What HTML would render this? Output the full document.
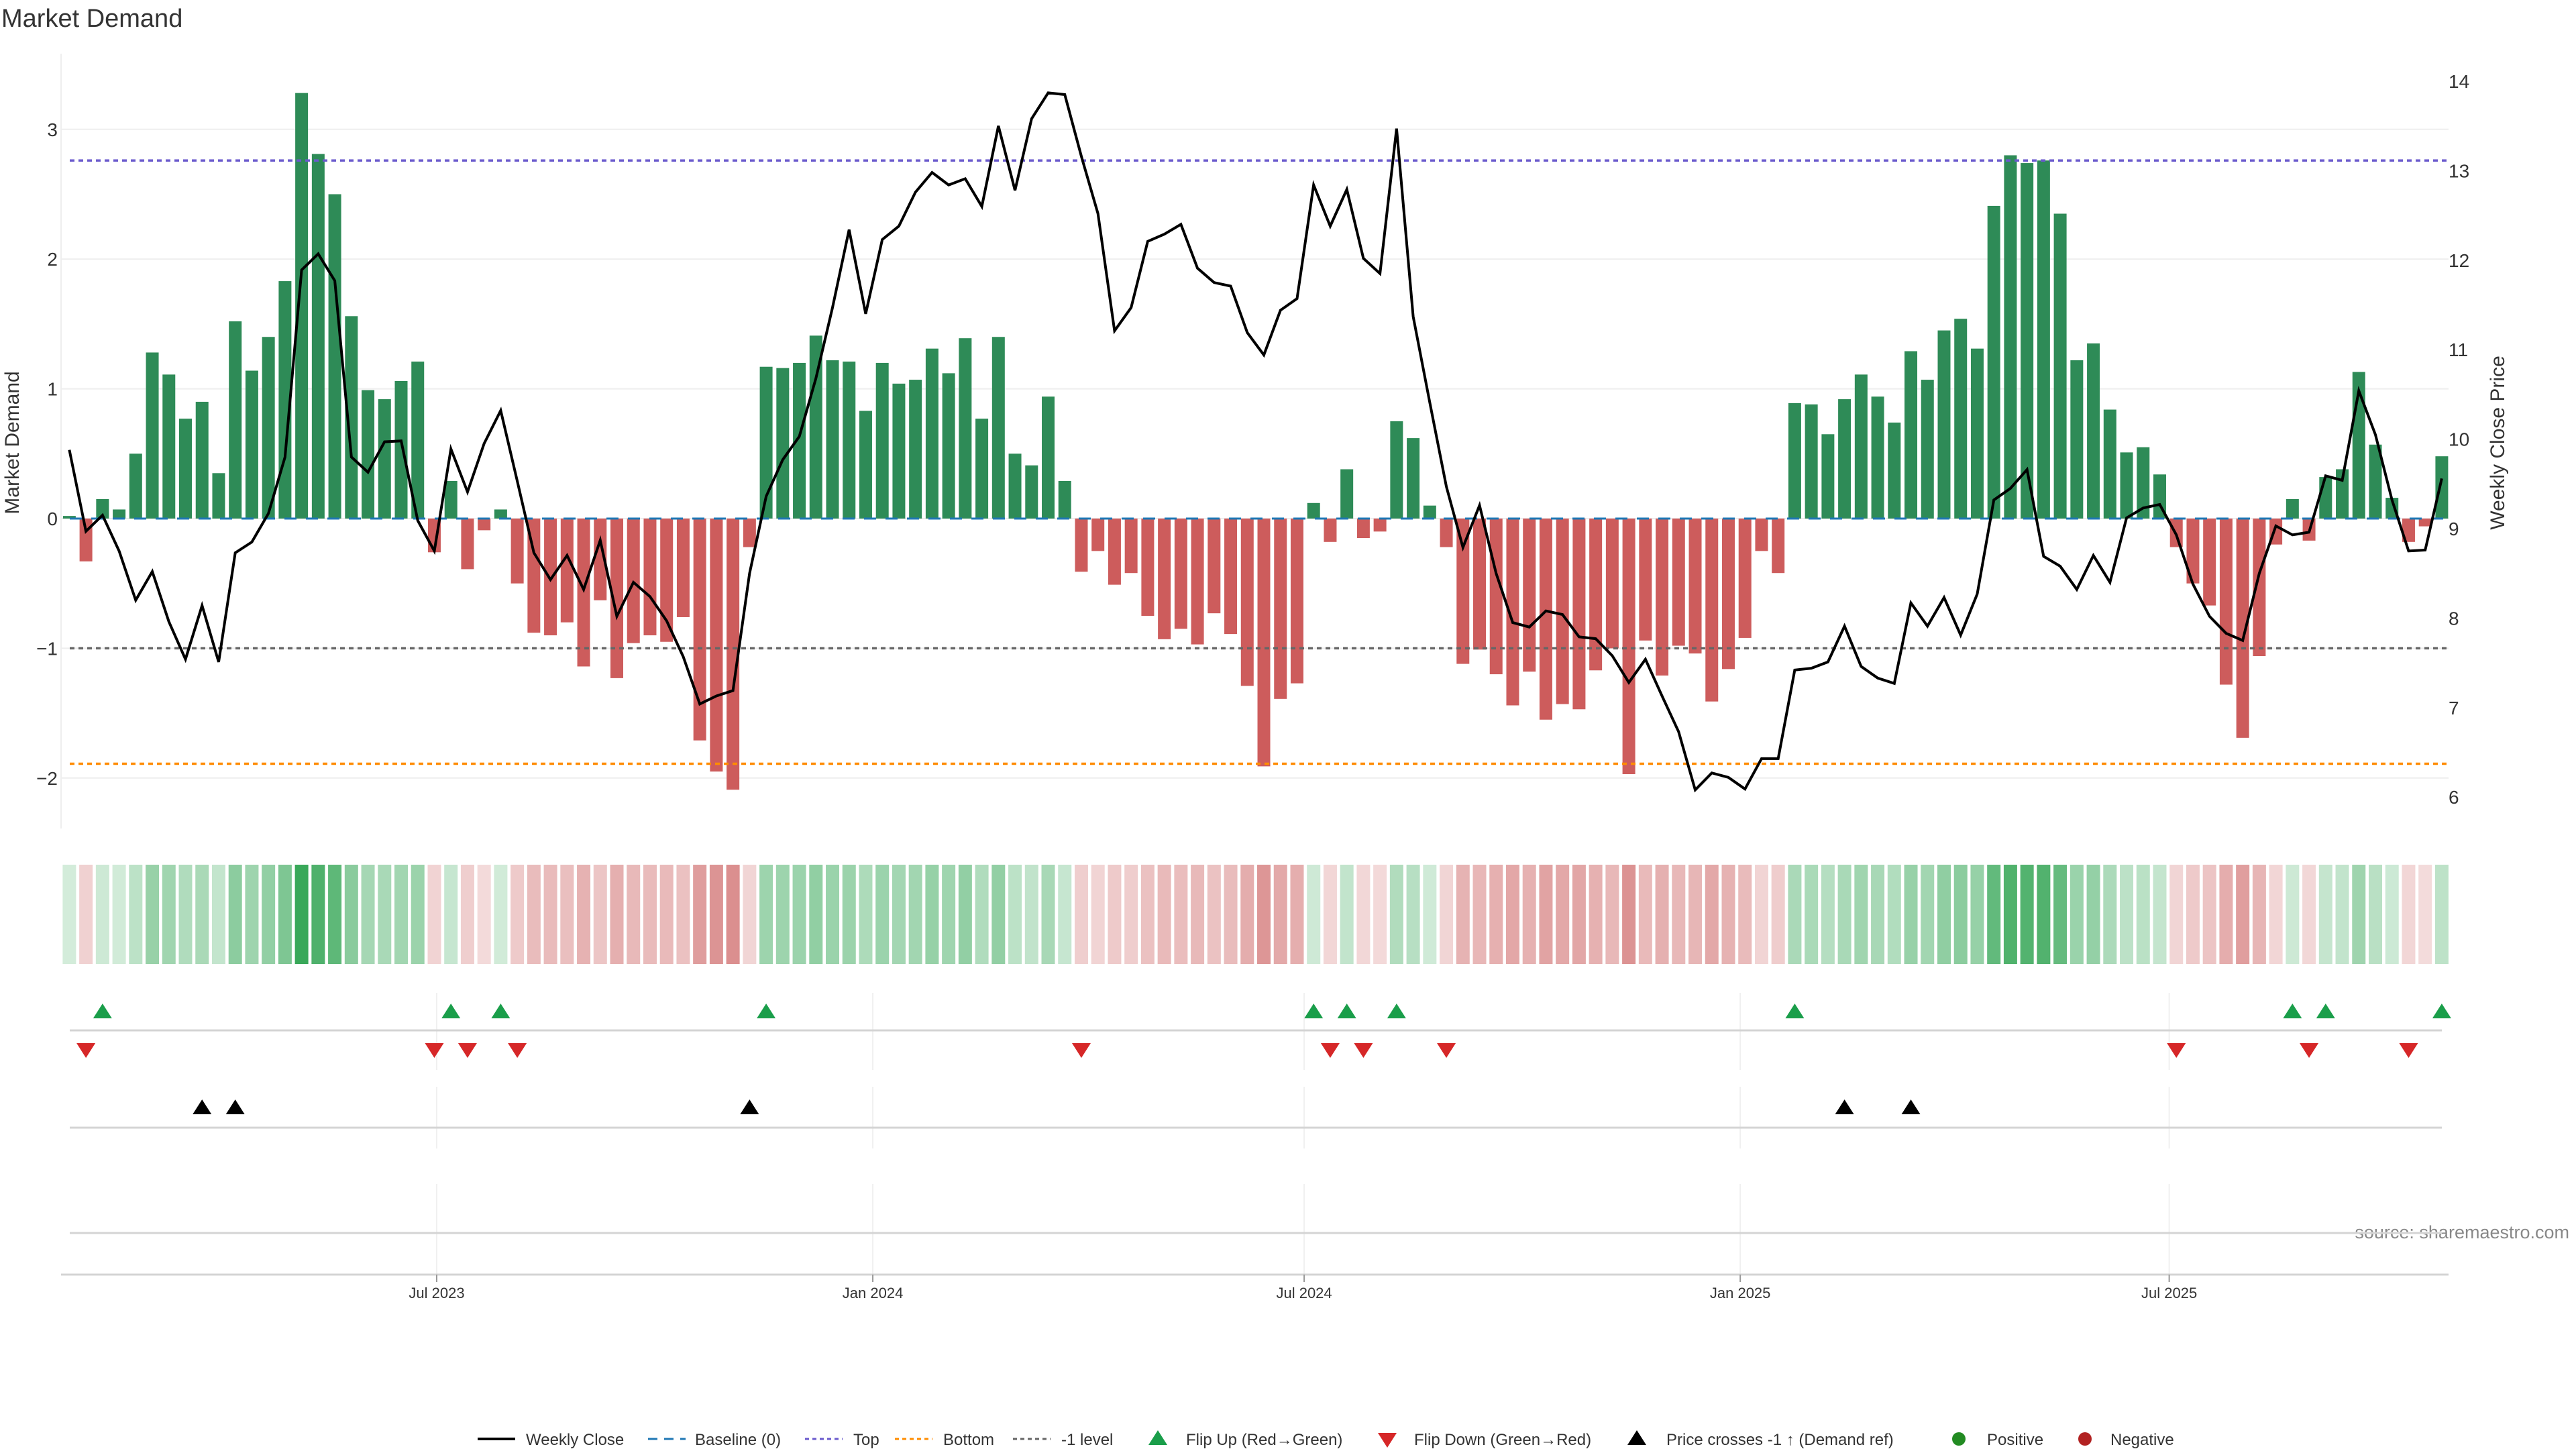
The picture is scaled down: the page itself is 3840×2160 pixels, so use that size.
<!DOCTYPE html>
<html><head><meta charset="utf-8"><style>
html,body{margin:0;padding:0;background:#fff;}
svg{display:block;font-family:"Liberation Sans","DejaVu Sans",sans-serif;}
</style></head><body>
<svg id="chart" width="3840" height="2160" viewBox="0 0 3840 2160" xmlns="http://www.w3.org/2000/svg">
<text x="2" y="40" font-size="38" fill="#333">Market Demand</text>
<text transform="translate(28,660) rotate(-90)" text-anchor="middle" font-size="30" fill="#333">Market Demand</text>
<text transform="translate(3733,660) rotate(-90)" text-anchor="middle" font-size="30" fill="#333">Weekly Close Price</text>
<text x="3830" y="1846" text-anchor="end" font-size="27" fill="#888">source: sharemaestro.com</text>
<g id="grid"></g><g id="bars"></g><g id="levels"></g><g id="line"></g><g id="heat"></g><g id="markers"></g><g id="axes"></g><g id="legend"></g>
</svg>
<script>
const demand = [0.02,-0.33,0.15,0.07,0.5,1.28,1.11,0.77,0.90,0.35,1.52,1.14,1.40,1.83,3.28,2.81,2.50,1.56,0.99,0.92,1.06,1.21,-0.26,0.29,-0.39,-0.09,0.07,-0.50,-0.88,-0.90,-0.80,-1.14,-0.63,-1.23,-0.96,-0.90,-0.95,-0.76,-1.71,-1.95,-2.09,-0.22,1.17,1.16,1.20,1.41,1.22,1.21,0.83,1.20,1.04,1.07,1.31,1.12,1.39,0.77,1.40,0.50,0.41,0.94,0.29,-0.41,-0.25,-0.51,-0.42,-0.75,-0.93,-0.85,-0.97,-0.73,-0.89,-1.29,-1.91,-1.39,-1.27,0.12,-0.18,0.38,-0.15,-0.10,0.75,0.62,0.10,-0.22,-1.12,-1.01,-1.20,-1.44,-1.18,-1.55,-1.43,-1.47,-1.17,-1.00,-1.97,-0.94,-1.21,-0.98,-1.04,-1.41,-1.16,-0.92,-0.25,-0.42,0.89,0.88,0.65,0.92,1.11,0.94,0.74,1.29,1.07,1.45,1.54,1.31,2.41,2.80,2.74,2.76,2.35,1.22,1.35,0.84,0.51,0.55,0.34,-0.22,-0.50,-0.67,-1.28,-1.69,-1.06,-0.20,0.15,-0.17,0.32,0.38,1.13,0.57,0.16,-0.18,-0.06,0.48];
const price = [9.88,8.97,9.15,8.75,8.20,8.52,7.96,7.54,8.14,7.51,8.73,8.85,9.17,9.80,11.89,12.07,11.77,9.80,9.63,9.97,9.98,9.09,8.75,9.89,9.41,9.95,10.32,9.53,8.73,8.43,8.70,8.32,8.87,8.02,8.40,8.24,7.97,7.57,7.04,7.13,7.19,8.50,9.36,9.77,10.03,10.68,11.47,12.34,11.40,12.23,12.38,12.76,12.98,12.84,12.91,12.60,13.50,12.78,13.58,13.87,13.85,13.16,12.52,11.21,11.47,12.21,12.29,12.40,11.91,11.75,11.71,11.19,10.94,11.44,11.57,12.84,12.38,12.79,12.02,11.85,13.47,11.37,10.41,9.47,8.79,9.26,8.50,7.95,7.90,8.08,8.04,7.79,7.77,7.58,7.28,7.54,7.13,6.73,6.08,6.27,6.22,6.09,6.43,6.43,7.42,7.44,7.51,7.91,7.46,7.33,7.27,8.17,7.91,8.23,7.81,8.27,9.32,9.45,9.66,8.69,8.58,8.32,8.70,8.40,9.12,9.23,9.27,8.93,8.38,8.02,7.83,7.75,8.50,9.03,8.93,8.96,9.59,9.54,10.54,10.05,9.32,8.75,8.76,9.56];
const startDate = "2023-01-27";
const leftTicks = [-2,-1,0,1,2,3];
const rightTicks = [6,7,8,9,10,11,12,13,14];
const dateTicks = ["2023-07-01","2024-01-01","2024-07-01","2025-01-01","2025-07-01"];
const dateTickLabels = ["Jul 2023","Jan 2024","Jul 2024","Jan 2025","Jul 2025"];
const levelValues = [2.76,-1.89,-1];

const NS="http://www.w3.org/2000/svg";
function mk(parent,tag,attrs,text){const e=document.createElementNS(NS,tag);for(const k in attrs)e.setAttribute(k,attrs[k]);if(text!==undefined)e.textContent=text;document.getElementById(parent).appendChild(e);return e;}
const DAY=86400000, PXD=3.533, tRef=Date.parse("2023-07-01T00:00:00Z"), t0=Date.parse(startDate+"T00:00:00Z");
function xDate(s){return 651+(Date.parse(s+"T00:00:00Z")-tRef)/DAY*PXD;}
function xIdx(i){return 651+((t0-tRef)/DAY+i*7)*PXD;}
function yD(v){return 773-v*193.4;}
function yP(p){return 788-(p-9)*133.4;}
const XL=91, XR=3650;

leftTicks.forEach(v=>{
  const g=mk('grid','line',{x1:XL,x2:XR,y1:yD(v),y2:yD(v),stroke:'#eeeeee','stroke-width':2});
  
  
  const t=mk('axes','text',{x:86,y:yD(v)+10,'text-anchor':'end','font-size':28,fill:'#333'},v<0?'\u2212'+Math.abs(v):String(v));
  
  
});
rightTicks.forEach(v=>{
  const t=mk('axes','text',{x:3650,y:yP(v)+10,'font-size':28,fill:'#333'},String(v));
  
  
});
const ax=mk('axes','line',{x1:XL,x2:XL,y1:80,y2:1235,stroke:'#eeeeee','stroke-width':2});



demand.forEach((v,i)=>{
  const x=xIdx(i), y0=yD(0), y1=yD(v);
  const r=mk('bars','rect',{x:x-9.5,y:Math.min(y0,y1),width:19,height:Math.max(1,Math.abs(y1-y0)),fill:v>=0?'#2e8b57':'#cd5c5c'});
  
  
});
const bl=mk('levels','line',{x1:104,x2:XR,y1:yD(0),y2:yD(0),stroke:'#1f77b4','stroke-width':3,'stroke-dasharray':'18 14'});


const lvCols=['#6a5acd','#ff8c00','#666666'], lvNames=['top-level','bottom-level','minus-one-level'];
levelValues.forEach((v,k)=>{
  const l=mk('levels','line',{x1:104,x2:XR,y1:yD(v),y2:yD(v),stroke:lvCols[k],'stroke-width':3.5,'stroke-dasharray':'7 6'});
  
  
});
const pl=mk('line','polyline',{points:price.map((p,i)=>xIdx(i)+','+yP(p)).join(' '),fill:'none',stroke:'#000','stroke-width':4,'stroke-linejoin':'miter'});



const maxA=Math.max(...demand.map(Math.abs));
demand.forEach((v,i)=>{
  const a=0.2+0.72*Math.abs(v)/maxA;
  const c=v>=0?[40,160,75]:[200,85,85];
  const col='rgb('+c.map(q=>Math.round(255-(255-q)*a)).join(',')+')';
  const r=mk('heat','rect',{x:xIdx(i)-10,y:1289,width:20,height:148,fill:col});
  
  
});

[[1536,3640],[1681,3640],[1838,3640]].forEach(([y,xe])=>{
  const l=mk('axes','line',{x1:104,x2:xe,y1:y,y2:y,stroke:'#d4d4d4','stroke-width':3});
  
  
});
const xa=mk('axes','line',{x1:XL,x2:XR,y1:1900,y2:1900,stroke:'#d4d4d4','stroke-width':3});


dateTicks.forEach((d,k)=>{
  const x=xDate(d);
  [[1480,1595],[1620,1712],[1765,1900]].forEach(([a,b])=>{
    const g=mk('grid','line',{x1:x,x2:x,y1:a,y2:b,stroke:'#f0f0f0','stroke-width':2});
    
    
  });
  const tk=mk('axes','line',{x1:x,x2:x,y1:1900,y2:1911,stroke:'#999','stroke-width':2});
  
  
  const t=mk('axes','text',{x:x,y:1935,'text-anchor':'middle','font-size':22,fill:'#333'},dateTickLabels[k]);
  
  
});

function tri(x,y,up,col,name){
  const s=14,h=22;
  const pts=up?[[x-s,y+h/2],[x+s,y+h/2],[x,y-h/2]]:[[x-s,y-h/2],[x+s,y-h/2],[x,y+h/2]];
  const p=mk('markers','polygon',{points:pts.map(q=>q.join(',')).join(' '),fill:col});
  
  
}
const thr=9-(yD(-1)-788)/133.4;
for(let i=1;i<demand.length;i++){
  if(demand[i-1]<0&&demand[i]>=0) tri(xIdx(i),1507,true,'#1a9e4a','flip-up-marker');
  if(demand[i-1]>=0&&demand[i]<0) tri(xIdx(i),1566,false,'#d62728','flip-down-marker');
  if(price[i-1]<thr&&price[i]>=thr) tri(xIdx(i),1650,true,'#000','price-cross-marker');
}

const ly=2145;
function ltext(x,s){const t=mk('legend','text',{x:x,y:ly+9,'font-size':24,fill:'#333'},s);}
function lline(x,col,dash,w){const l=mk('legend','line',{x1:x,x2:x+56,y1:ly,y2:ly,stroke:col,'stroke-width':w,'stroke-dasharray':dash});}
lline(712,'#000','none',4);ltext(784,'Weekly Close');
lline(966,'#1f77b4','14 10',3);ltext(1036,'Baseline (0)');
lline(1200,'#6a5acd','6 5',3);ltext(1272,'Top');
lline(1334,'#ff8c00','6 5',3);ltext(1406,'Bottom');
lline(1510,'#666','6 5',3);ltext(1582,'-1 level');
tri(1726,ly-2,true,'#1a9e4a','legend-flip-up');ltext(1768,'Flip Up (Red\u2192Green)');
tri(2068,ly+2,false,'#d62728','legend-flip-down');ltext(2108,'Flip Down (Green\u2192Red)');
tri(2440,ly-2,true,'#000','legend-price-cross');ltext(2484,'Price crosses -1 \u2191 (Demand ref)');
const c1=mk('legend','circle',{cx:2920,cy:ly,r:10,fill:'#228b22'});
ltext(2962,'Positive');
const c2=mk('legend','circle',{cx:3108,cy:ly,r:10,fill:'#b22222'});
ltext(3146,'Negative');
</script>
</body></html>
